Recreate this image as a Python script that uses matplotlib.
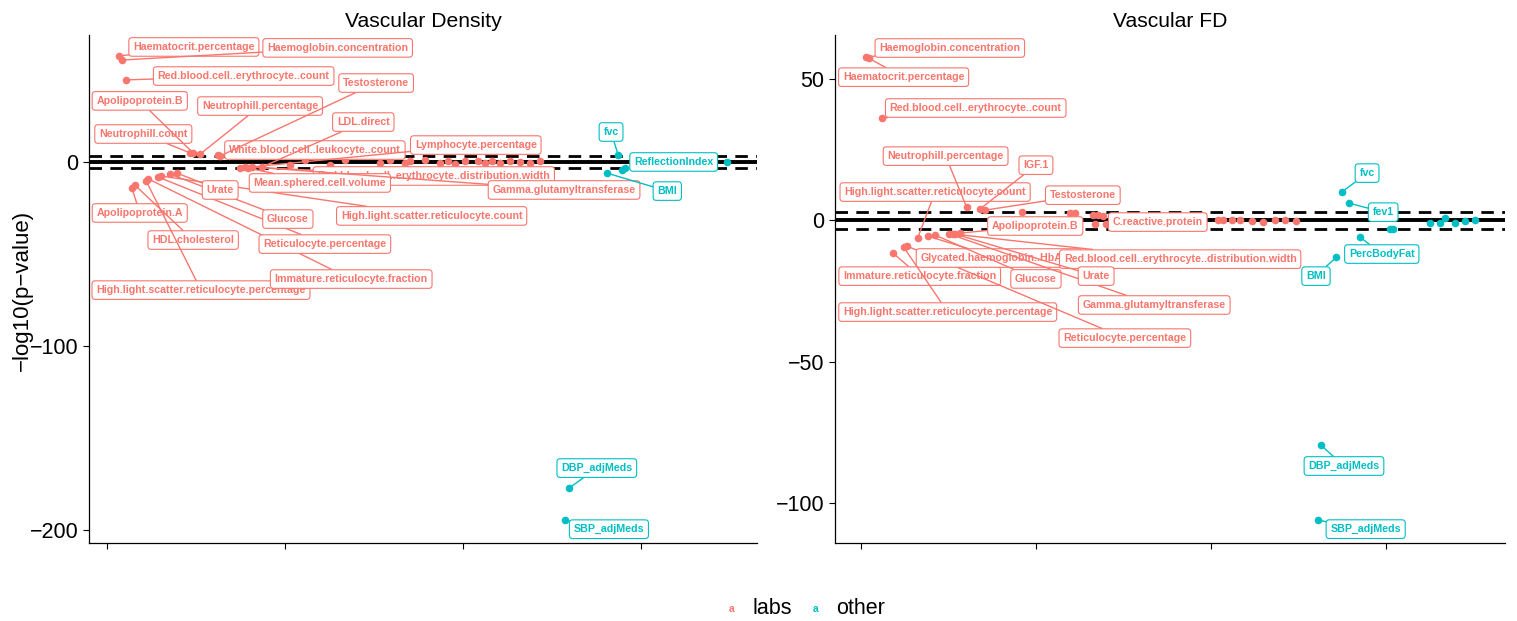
import numpy as np
import matplotlib
matplotlib.use('Agg')
import matplotlib.pyplot as plt

plt.rcParams['font.family'] = ['Liberation Sans', 'DejaVu Sans']

LAB_COL = '#F8766D'
OTH_COL = '#00BFC4'

# ---- Vascular Density data ----
dens_lab_names = ['Haematocrit.percentage', 'Haemoglobin.concentration', 'Red.blood.cell..erythrocyte..count',
                  'Apolipoprotein.A', 'HDL.cholesterol', 'High.light.scatter.reticulocyte.percentage',
                  'Immature.reticulocyte.fraction', 'Reticulocyte.percentage', 'High.light.scatter.reticulocyte.count',
                  'Glucose', 'Urate', 'Neutrophill.count', 'Apolipoprotein.B', 'Neutrophill.percentage',
                  'White.blood.cell..leukocyte..count', 'Testosterone', 'Lymphocyte.percentage',
                  'Red.blood.cell..erythrocyte..distribution.width', 'Mean.sphered.cell.volume',
                  'Gamma.glutamyltransferase', 'LDL.direct',
                  '', '', '', '', '', '', '', '', '', '', '', '', '', '', '', '', '', '', '', '', '']
dens_lab_x = [1.7, 2.1, 2.7, 3.5, 3.9, 5.5, 5.8, 7.2, 7.6, 8.8, 9.8, 11.7, 12.1, 13.1, 15.6, 15.9, 18.7, 19.4,
              19.8, 20.4, 21.8,
              25.7, 27.8, 31.3, 33.4, 38.3, 39.7, 41.9, 42.6, 44.7, 46.8, 47.9, 48.9, 50.3, 52.1, 53.1, 54.1,
              55.2, 56.6, 58.0, 59.4, 60.8]
dens_lab_y = [57.6, 55.4, 44.6, -14.1, -12.5, -10.3, -9.2, -8.2, -7.6, -6.5, -6.0, 4.9, 4.9, 4.3, 3.8, 3.3,
              -3.3, -2.7, -3.3, -2.7, -2.7,
              -1.6, 1.2, -1.4, 1.0, -0.8, 0.9, -0.6, 0.5, 1.1, -0.4, 0.6, -0.9, 0.3, 0.8, -0.5, 0.4,
              -0.3, 0.6, 0.2, -0.4, 0.3]

dens_oth_names = ['DBP_adjMeds', 'SBP_adjMeds', 'BMI', 'fvc', 'ReflectionIndex', '', '', '', '', '', '']
dens_oth_x = [64.9, 64.3, 70.2, 71.8, 72.3, 72.8, 75.0, 78.0, 81.0, 84.5, 87.1]
dens_oth_y = [-177.2, -194.6, -6.0, 3.8, -4.3, -3.3, -1.2, 0.8, -0.5, 0.6, 0.1]

# ---- Vascular FD data ----
fd_lab_names = ['Haemoglobin.concentration', 'Haematocrit.percentage', 'Red.blood.cell..erythrocyte..count',
                'Immature.reticulocyte.fraction', 'High.light.scatter.reticulocyte.percentage',
                'Reticulocyte.percentage', 'High.light.scatter.reticulocyte.count', 'Glycated.haemoglobin..HbA1c.',
                'Glucose', 'Gamma.glutamyltransferase', 'Red.blood.cell..erythrocyte..distribution.width', 'Urate',
                'Apolipoprotein.B', 'Neutrophill.percentage', 'IGF.1', 'Testosterone', 'C.reactive.protein',
                '', '', '', '', '', '', '', '', '', '', '', '', '', '', '', '', '', '', '', '', '']
fd_lab_x = [0.7, 1.1, 3.0, 4.6, 6.1, 6.6, 8.1, 9.6, 10.6, 12.6, 13.1, 13.4, 14.1, 15.1, 17.0, 17.7, 35.0,
            23.0, 29.9, 30.6, 33.1, 33.9, 34.6, 33.4, 38.0, 41.0, 44.0, 47.0, 51.0, 51.7, 53.0, 54.1, 55.9,
            57.4, 59.1, 60.6, 62.1]
fd_lab_y = [57.6, 57.2, 36.0, -11.7, -9.5, -9.2, -6.4, -5.7, -5.3, -4.9, -4.9, -4.9, -4.6, 4.6, 3.9, 3.5, -1.4,
            2.8, 2.5, 2.5, 1.8, 1.8, 1.4, -1.4, 0.8, -0.6, 0.5, -0.3, 0.2, 0.2, 0.2, 0.2, -0.4,
            -0.7, 0.2, 0.2, -0.4]

fd_oth_names = ['DBP_adjMeds', 'SBP_adjMeds', 'BMI', 'fvc', 'fev1', 'PercBodyFat', '', '', '', '', '', '', '', '']
fd_oth_x = [65.7, 65.3, 67.9, 68.7, 69.7, 71.3, 75.6, 76.0, 81.3, 82.7, 83.4, 84.9, 86.3, 87.7]
fd_oth_y = [-79.5, -106.0, -13.1, 9.9, 6.0, -6.0, -3.2, -3.2, -1.0, -1.0, 0.8, -1.0, -0.4, 0.2]

# label placement (what ggrepel came up with), in data units
dens_label_pos = {
    'Haematocrit.percentage': (12.2, 62.5), 'Haemoglobin.concentration': (32.4, 62.0),
    'Red.blood.cell..erythrocyte..count': (19.2, 46.7), 'Testosterone': (37.8, 42.9),
    'Apolipoprotein.B': (4.6, 33.2), 'Neutrophill.percentage': (21.5, 30.4), 'LDL.direct': (36.0, 21.7),
    'Neutrophill.count': (5.1, 15.2), 'White.blood.cell..leukocyte..count': (29.2, 6.5),
    'Lymphocyte.percentage': (51.8, 9.2), 'Mean.sphered.cell.volume': (29.9, -11.4),
    'Red.blood.cell..erythrocyte..distribution.width': (45.9, -7.6), 'Gamma.glutamyltransferase': (64.2, -15.2),
    'Urate': (15.9, -15.2), 'Apolipoprotein.A': (4.6, -27.7), 'Glucose': (25.4, -31.0),
    'High.light.scatter.reticulocyte.count': (45.6, -29.3), 'HDL.cholesterol': (12.1, -42.4),
    'Reticulocyte.percentage': (30.6, -44.6), 'Immature.reticulocyte.fraction': (34.3, -63.6),
    'High.light.scatter.reticulocyte.percentage': (13.2, -69.6),
    'fvc': (70.8, 16.3), 'ReflectionIndex': (79.6, 0.0), 'BMI': (78.7, -15.8),
    'DBP_adjMeds': (68.8, -166.3), 'SBP_adjMeds': (70.5, -199.5),
}
fd_label_pos = {
    'Haemoglobin.concentration': (12.7, 60.8), 'Haematocrit.percentage': (6.1, 50.5),
    'Red.blood.cell..erythrocyte..count': (16.4, 39.6), 'Neutrophill.percentage': (12.1, 22.6),
    'IGF.1': (25.0, 19.4), 'High.light.scatter.reticulocyte.count': (10.6, 9.9), 'Testosterone': (31.7, 8.8),
    'Apolipoprotein.B': (24.9, -2.1), 'C.reactive.protein': (42.4, -0.7),
    'Glycated.haemoglobin..HbA1c.': (19.7, -13.4),
    'Red.blood.cell..erythrocyte..distribution.width': (45.6, -13.8),
    'Immature.reticulocyte.fraction': (8.4, -19.8), 'Glucose': (25.0, -20.8), 'Urate': (33.6, -19.8),
    'Gamma.glutamyltransferase': (41.9, -30.0), 'High.light.scatter.reticulocyte.percentage': (12.4, -32.5),
    'Reticulocyte.percentage': (37.7, -41.7),
    'fvc': (72.3, 16.6), 'fev1': (74.6, 2.8), 'PercBodyFat': (74.4, -12.0), 'BMI': (65.0, -19.8),
    'DBP_adjMeds': (69.0, -86.9), 'SBP_adjMeds': (72.1, -109.2),
}


def draw_panel(ax, title, groups, label_pos, xlim, ylim, yticks):
    ax.axhline(0, color='black', lw=2.8, zorder=2)
    ax.axhline(3, color='black', lw=2.0, ls=(0, (4.5, 3)), zorder=2)
    ax.axhline(-3, color='black', lw=2.0, ls=(0, (4.5, 3)), zorder=2)
    for names, xs, ys, col in groups:
        ax.scatter(xs, ys, s=30, color=col, zorder=3, linewidths=0)
        for n, x, y in zip(names, xs, ys):
            if n == '':
                continue
            lx, ly = label_pos[n]
            ax.annotate(n, xy=(x, y), xytext=(lx, ly), ha='center', va='center',
                        fontsize=7.7, fontweight='bold', color=col, zorder=5,
                        bbox=dict(boxstyle='round,pad=0.4,rounding_size=0.3', fc='white', ec=col, lw=0.8),
                        arrowprops=dict(arrowstyle='-', color=col, lw=1.0, shrinkA=0, shrinkB=2))
    ax.set_xlim(*xlim)
    ax.set_ylim(*ylim)
    ax.set_xticks([0, 25, 50, 75])
    ax.set_xticklabels([])
    ax.set_yticks(yticks)
    ax.tick_params(labelsize=15.5, length=4, width=0.8, colors='black')
    for s in ['top', 'right']:
        ax.spines[s].set_visible(False)
    ax.spines['left'].set_linewidth(0.9)
    ax.spines['bottom'].set_linewidth(0.9)
    ax.set_title(title, fontsize=15.2, pad=6)


fig = plt.figure(figsize=(15.17, 6.21), dpi=100)
ax1 = fig.add_axes([89 / 1517, 1 - 543 / 621, (757 - 89) / 1517, (543 - 35) / 621])
ax2 = fig.add_axes([835 / 1517, 1 - 543 / 621, (1505 - 835) / 1517, (543 - 35) / 621])

draw_panel(ax1, 'Vascular Density',
           [(dens_lab_names, dens_lab_x, dens_lab_y, LAB_COL), (dens_oth_names, dens_oth_x, dens_oth_y, OTH_COL)],
           dens_label_pos, (-2.53, 91.3), (-207, 69), [0, -100, -200])
draw_panel(ax2, 'Vascular FD',
           [(fd_lab_names, fd_lab_x, fd_lab_y, LAB_COL), (fd_oth_names, fd_oth_x, fd_oth_y, OTH_COL)],
           fd_label_pos, (-3.7, 92.0), (-114.1, 65.4), [50, 0, -50, -100])
fig.text(22 / 1517, 1 - 290 / 621, '\u2212log10(p\u2212value)', fontsize=16, rotation=90,
         ha='center', va='center')

# legend at the bottom
fig.text(732 / 1517, 0.02, 'a', color=LAB_COL, fontsize=7.5, fontweight='bold', ha='center', va='center')
fig.text(752 / 1517, 0.02, 'labs', fontsize=15.5, ha='left', va='center')
fig.text(816 / 1517, 0.02, 'a', color=OTH_COL, fontsize=7.5, fontweight='bold', ha='center', va='center')
fig.text(836 / 1517, 0.02, 'other', fontsize=15.5, ha='left', va='center')

fig.savefig('out.png', dpi=100)
